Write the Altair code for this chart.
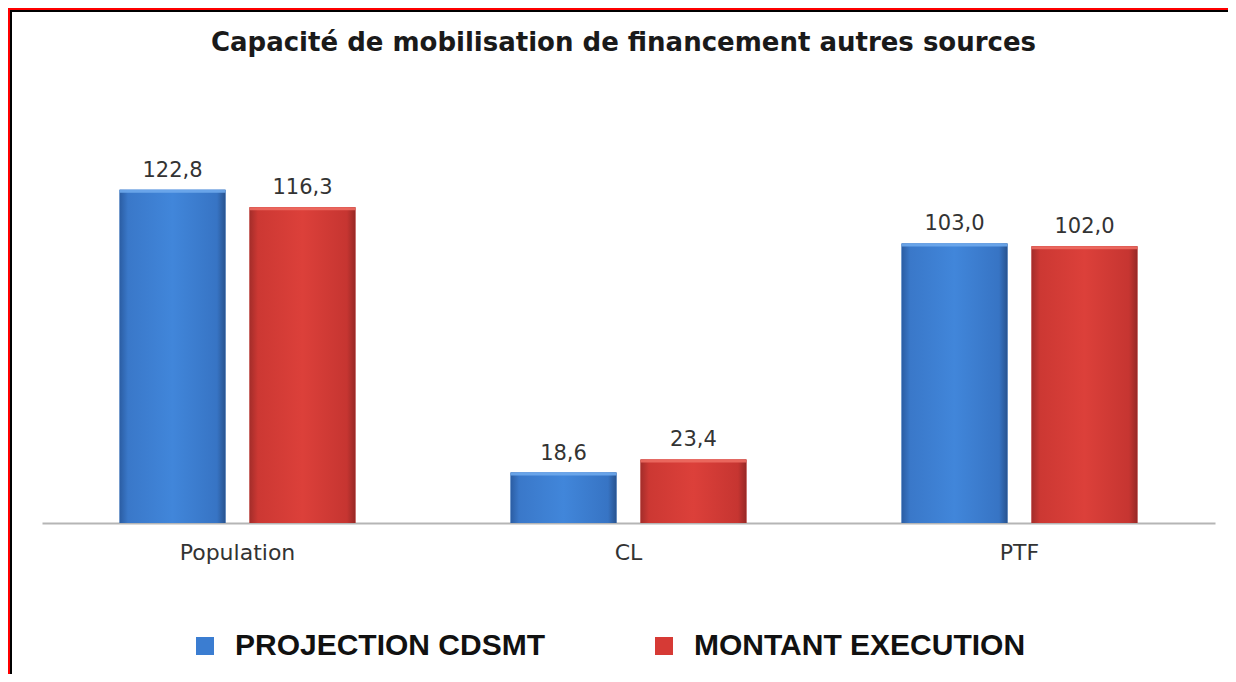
import altair as alt
import pandas as pd

categories = ["Population", "CL", "PTF"]
series = ["PROJECTION CDSMT", "MONTANT EXECUTION"]
projection = [122.8, 18.6, 103.0]
execution = [116.3, 23.4, 102.0]
title_text = "Capacité de mobilisation de financement autres sources"
colors = ["#3b7dd1", "#d63a35"]
cap_colors = ["#6ea8ec", "#ec6c62"]

rows = []
for c, p, e in zip(categories, projection, execution):
    rows.append({"cat": c, "serie": series[0], "v": p})
    rows.append({"cat": c, "serie": series[1], "v": e})
df = pd.DataFrame(rows)
one = pd.DataFrame({"k": [0]})

W, H = 1173, 380
PL, PT = 34, 135
SVG_W, SVG_H = 1220, 666
PR = SVG_W - PL - W
PB = SVG_H - PT - H

x_enc = alt.X(
    "cat:N", sort=categories,
    scale=alt.Scale(paddingInner=0, paddingOuter=0),
    axis=alt.Axis(title=None, labelAngle=0, ticks=False, domainColor="#b5b5b5",
                  domainWidth=2, labelFontSize=22, labelFont="DejaVu Sans",
                  labelColor="#333333", labelPadding=19, labelBaseline="top"),
)
xo_enc = alt.XOffset("serie:N", sort=series,
                     scale=alt.Scale(domain=series, paddingInner=0.185, paddingOuter=0.597))
y_enc = alt.Y("v:Q", scale=alt.Scale(domain=[0, 140]), axis=None)

base = alt.Chart(df).mark_bar().encode(
    x=x_enc, xOffset=xo_enc, y=y_enc,
    color=alt.Color("serie:N",
                    scale=alt.Scale(domain=series, range=colors),
                    legend=alt.Legend(orient="none", legendX=148, legendY=488,
                                      direction="horizontal", title=None,
                                      symbolType="square", symbolSize=324,
                                      symbolStrokeWidth=0, labelFontSize=30,
                                      labelFont="Liberation Sans", labelFontWeight="bold",
                                      labelColor="#111111", columnPadding=103,
                                      labelOffset=15, labelLimit=0)),
)

blue_grad = alt.LinearGradient(gradient="linear", x1=0, x2=1, y1=0, y2=0, stops=[
    alt.GradientStop(offset=0, color="#2b5da3"),
    alt.GradientStop(offset=0.08, color="#3a78c9"),
    alt.GradientStop(offset=0.5, color="#4186da"),
    alt.GradientStop(offset=0.92, color="#3774c4"),
    alt.GradientStop(offset=1, color="#28538f"),
])
red_grad = alt.LinearGradient(gradient="linear", x1=0, x2=1, y1=0, y2=0, stops=[
    alt.GradientStop(offset=0, color="#a32d2a"),
    alt.GradientStop(offset=0.08, color="#cc3833"),
    alt.GradientStop(offset=0.5, color="#dc403a"),
    alt.GradientStop(offset=0.92, color="#c63531"),
    alt.GradientStop(offset=1, color="#962825"),
])

blue = alt.Chart(df).mark_bar(color=blue_grad).encode(
    x=x_enc, xOffset=xo_enc, y=y_enc).transform_filter(alt.datum.serie == series[0])
red = alt.Chart(df).mark_bar(color=red_grad).encode(
    x=x_enc, xOffset=xo_enc, y=y_enc).transform_filter(alt.datum.serie == series[1])

# light bevel at the top of each bar
caps = alt.Chart(df).transform_calculate(v2="datum.v - 1.1").mark_bar(opacity=0.9).encode(
    x=x_enc, xOffset=xo_enc, y=y_enc, y2="v2:Q",
    color=alt.Color("serie:N", scale=alt.Scale(domain=series, range=colors), legend=None),
    fill=alt.Fill("serie:N", scale=alt.Scale(domain=series, range=cap_colors), legend=None),
)

labels = alt.Chart(df).transform_calculate(
    lab="replace(format(datum.v, '.1f'), '.', ',')"
).mark_text(dy=-9, baseline="bottom", fontSize=21, font="DejaVu Sans", color="#333333").encode(
    x=x_enc, xOffset=xo_enc, y=y_enc, text="lab:N")

title = alt.Chart(one).mark_text(
    text=title_text, font="DejaVu Sans", fontWeight="bold", fontSize=26,
    color="#1a1a1a", baseline="middle", align="center"
).encode(x=alt.value(581.5), y=alt.value(-100))

# frame lines (red outer, black inner) along top and left edges
top_red = alt.Chart(one).mark_rule(color="#ff0000", strokeWidth=2).encode(
    x=alt.value(-PL), x2=alt.value(SVG_W - PL), y=alt.value(-PT + 1))
top_black = alt.Chart(one).mark_rule(color="#000000", strokeWidth=2).encode(
    x=alt.value(-PL + 2), x2=alt.value(SVG_W - PL), y=alt.value(-PT + 3))
left_red = alt.Chart(one).mark_rule(color="#ff0000", strokeWidth=2).encode(
    x=alt.value(-PL + 1), y=alt.value(-PT), y2=alt.value(SVG_H - PT))
left_black = alt.Chart(one).mark_rule(color="#000000", strokeWidth=2).encode(
    x=alt.value(-PL + 3), y=alt.value(-PT + 2), y2=alt.value(SVG_H - PT))

chart = alt.layer(base, blue, red, caps, labels, title, top_red, top_black, left_red, left_black).resolve_scale(
    fill="independent"
).properties(
    width=W, height=H,
    padding={"left": PL, "top": PT, "right": PR, "bottom": PB},
    autosize=alt.AutoSizeParams(type="none"),
    background="white",
).configure_view(stroke=None)

chart.save("out.html", embed_options={"renderer": "svg", "actions": False})
